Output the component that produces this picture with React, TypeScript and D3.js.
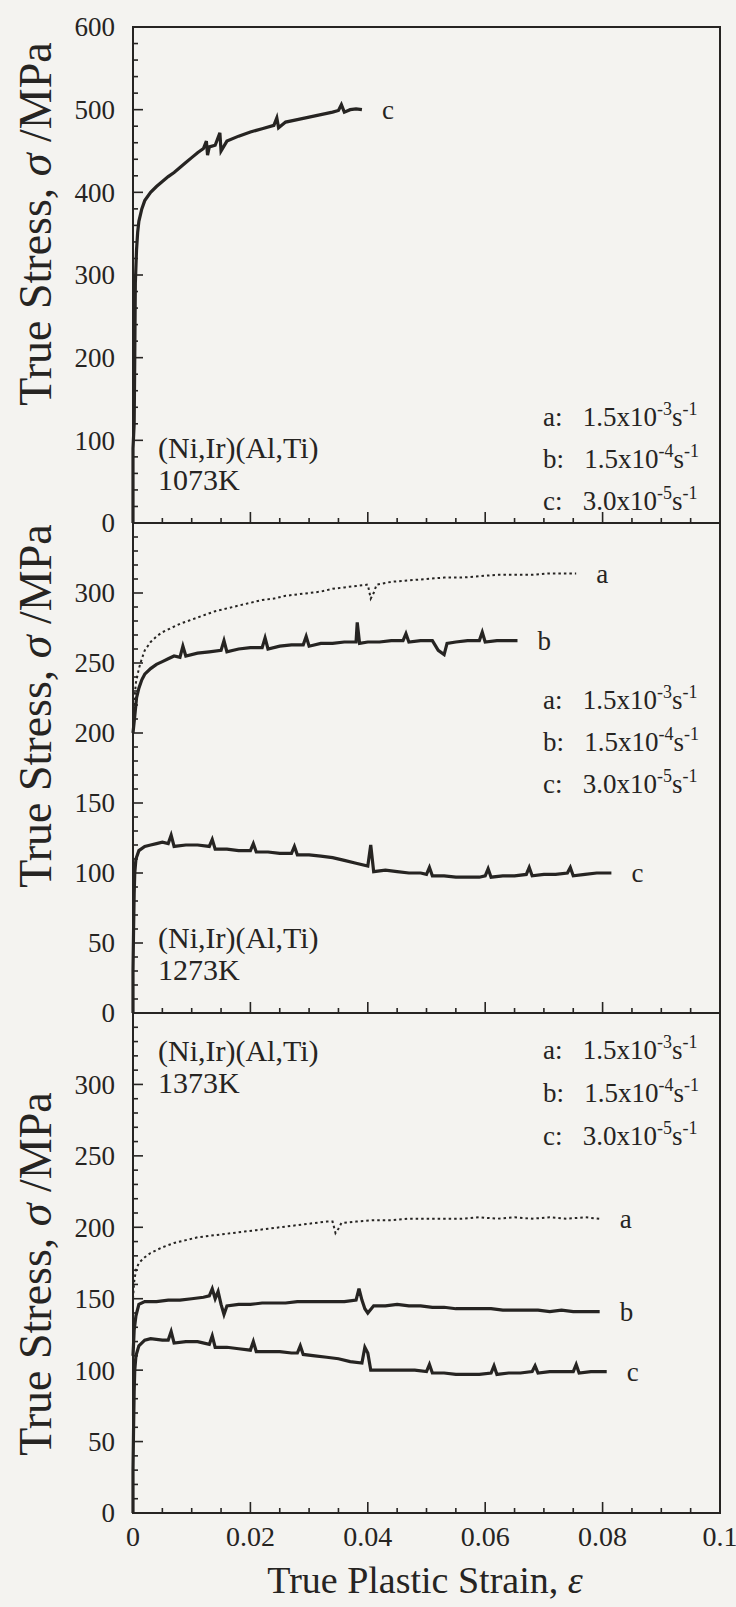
import React from 'react';
import * as d3 from 'd3';

// [true plastic strain, true stress (MPa)]
const c1073: [number, number][] = [
  [0, 0], [0, 90], [0.0002, 120], [0.0003, 200], [0.0004, 290], [0.0006, 330], [0.0008, 352], [0.001, 365],
  [0.0015, 380], [0.002, 390], [0.003, 400], [0.004, 407], [0.005, 413], [0.006, 419], [0.007, 424], [0.008, 430],
  [0.009, 436], [0.01, 442], [0.011, 448], [0.012, 453], [0.0125, 462], [0.0127, 445], [0.013, 455], [0.014, 457],
  [0.0148, 472], [0.015, 450], [0.016, 462], [0.018, 468], [0.02, 473], [0.022, 477], [0.024, 481], [0.0245, 490],
  [0.0248, 478], [0.026, 485], [0.028, 488], [0.03, 491], [0.032, 494], [0.034, 497], [0.035, 499], [0.0355, 506],
  [0.036, 497], [0.037, 500], [0.038, 501], [0.039, 500],
];

const a1273: [number, number][] = [
  [0, 200], [0.0002, 222], [0.0005, 236], [0.001, 246], [0.0015, 253], [0.002, 259], [0.003, 265], [0.004, 269],
  [0.005, 272], [0.006, 274], [0.008, 278], [0.01, 281], [0.012, 284], [0.014, 287], [0.016, 289], [0.018, 291],
  [0.02, 293], [0.022, 295], [0.024, 296], [0.026, 298], [0.028, 299], [0.03, 300], [0.032, 301], [0.034, 303],
  [0.036, 304], [0.038, 305], [0.04, 306], [0.0405, 296], [0.041, 300], [0.0415, 306], [0.044, 308], [0.047, 309],
  [0.05, 310], [0.053, 311], [0.056, 311], [0.059, 312], [0.062, 313], [0.065, 313], [0.068, 313], [0.071, 314],
  [0.0755, 314],
];

const b1273: [number, number][] = [
  [0, 200], [0.0003, 212], [0.0006, 225], [0.001, 232], [0.0015, 238], [0.002, 242], [0.003, 246], [0.004, 249],
  [0.005, 251], [0.006, 253], [0.007, 255], [0.008, 254], [0.0085, 262], [0.009, 255], [0.011, 257], [0.013, 258],
  [0.015, 259], [0.0155, 266], [0.016, 258], [0.018, 260], [0.02, 261], [0.022, 261], [0.0225, 268], [0.023, 260],
  [0.025, 262], [0.027, 263], [0.029, 263], [0.0295, 269], [0.03, 262], [0.032, 264], [0.034, 264], [0.036, 265],
  [0.038, 265], [0.0382, 279], [0.0386, 264], [0.04, 265], [0.042, 265], [0.044, 266], [0.046, 266], [0.0465, 271],
  [0.047, 265], [0.049, 266], [0.051, 266], [0.052, 259], [0.053, 256], [0.0535, 264], [0.055, 265], [0.057, 266],
  [0.059, 266], [0.0595, 272], [0.06, 265], [0.062, 266], [0.064, 266], [0.0655, 266],
];

const c1273: [number, number][] = [
  [0, 0], [0, 30], [0.0001, 60], [0.0002, 85], [0.0003, 100], [0.0005, 110], [0.001, 116], [0.002, 119],
  [0.003, 120], [0.004, 121], [0.005, 122], [0.006, 121], [0.0065, 127], [0.007, 119], [0.009, 120], [0.011, 120],
  [0.013, 119], [0.0135, 124], [0.014, 117], [0.016, 117], [0.018, 116], [0.02, 116], [0.0205, 121], [0.021, 115],
  [0.023, 115], [0.025, 114], [0.027, 114], [0.0275, 119], [0.028, 113], [0.03, 113], [0.032, 112], [0.034, 111],
  [0.036, 109], [0.038, 107], [0.04, 105], [0.0405, 120], [0.041, 101], [0.043, 102], [0.045, 101], [0.047, 100],
  [0.049, 100], [0.05, 99], [0.0505, 104], [0.051, 98], [0.053, 98], [0.055, 97], [0.057, 97], [0.059, 97],
  [0.06, 98], [0.0605, 103], [0.061, 97], [0.063, 98], [0.065, 98], [0.067, 99], [0.0675, 104], [0.068, 98],
  [0.07, 99], [0.072, 99], [0.074, 100], [0.0745, 104], [0.075, 98], [0.077, 99], [0.079, 100], [0.0815, 100],
];

const a1373: [number, number][] = [
  [0, 150], [0.0002, 162], [0.0005, 170], [0.001, 175], [0.002, 179], [0.003, 182], [0.004, 184], [0.005, 186],
  [0.007, 189], [0.009, 191], [0.011, 193], [0.013, 194], [0.015, 195], [0.017, 196], [0.019, 197], [0.021, 198],
  [0.023, 199], [0.025, 200], [0.027, 201], [0.029, 202], [0.031, 203], [0.033, 204], [0.034, 204], [0.0345, 196],
  [0.035, 199], [0.0355, 203], [0.038, 204], [0.041, 205], [0.044, 205], [0.047, 206], [0.05, 206], [0.053, 206],
  [0.056, 206], [0.059, 207], [0.062, 206], [0.065, 207], [0.068, 206], [0.071, 207], [0.074, 206], [0.077, 207],
  [0.0795, 206],
];

const b1373: [number, number][] = [
  [0, 110], [0.0002, 128], [0.0005, 138], [0.001, 146], [0.002, 148], [0.004, 148], [0.006, 149], [0.008, 149],
  [0.01, 150], [0.012, 151], [0.013, 152], [0.0135, 157], [0.014, 150], [0.0145, 155], [0.015, 146], [0.0155, 139],
  [0.016, 145], [0.018, 146], [0.02, 146], [0.022, 147], [0.024, 147], [0.026, 147], [0.028, 148], [0.03, 148],
  [0.032, 148], [0.034, 148], [0.036, 148], [0.038, 149], [0.0385, 157], [0.039, 149], [0.0395, 143], [0.04, 140],
  [0.041, 145], [0.043, 145], [0.045, 146], [0.047, 145], [0.049, 145], [0.051, 144], [0.053, 144], [0.055, 143],
  [0.057, 143], [0.059, 143], [0.061, 143], [0.063, 142], [0.065, 142], [0.067, 142], [0.069, 142], [0.071, 141],
  [0.073, 142], [0.075, 141], [0.077, 141], [0.0795, 141],
];

const c1373: [number, number][] = [
  [0, 0], [0, 30], [0.0001, 60], [0.0002, 85], [0.0003, 100], [0.0005, 110], [0.001, 117], [0.002, 121],
  [0.003, 122], [0.005, 121], [0.006, 121], [0.0065, 127], [0.007, 119], [0.009, 120], [0.011, 120], [0.013, 118],
  [0.0135, 124], [0.014, 116], [0.016, 116], [0.018, 115], [0.02, 114], [0.0205, 120], [0.021, 113], [0.023, 113],
  [0.025, 113], [0.027, 112], [0.028, 112], [0.0285, 117], [0.029, 111], [0.031, 110], [0.033, 109], [0.035, 108],
  [0.037, 106], [0.039, 105], [0.0395, 116], [0.04, 112], [0.0405, 100], [0.042, 100], [0.044, 100], [0.046, 100],
  [0.048, 100], [0.05, 99], [0.0505, 104], [0.051, 98], [0.053, 98], [0.055, 97], [0.057, 97], [0.059, 97],
  [0.061, 98], [0.0615, 103], [0.062, 97], [0.064, 98], [0.066, 98], [0.068, 99], [0.0685, 103], [0.069, 98],
  [0.071, 99], [0.073, 99], [0.075, 99], [0.0755, 104], [0.076, 98], [0.078, 99], [0.0807, 99],
];

const strainTicks = [0, 0.02, 0.04, 0.06, 0.08, 0.1];
const strainTickLabels = ['0', '0.02', '0.04', '0.06', '0.08', '0.1'];
const stressTicks1073 = [0, 100, 200, 300, 400, 500, 600];
const stressTicksHot = [0, 50, 100, 150, 200, 250, 300];
const rateKeys = ['a', 'b', 'c'];
const rateValues = ['1.5', '1.5', '3.0'];
const rateExponents = ['-3', '-4', '-5'];
const temperatures = ['1073K', '1273K', '1373K'];
const alloy = '(Ni,Ir)(Al,Ti)';

const INK = '#262422';
const PAPER = '#f4f3f0';
const FONT = '"Liberation Serif", "Times New Roman", Times, serif';

const W = 736;
const H = 1607;
const left = 133;
const right = 720;

const x = d3.scaleLinear().domain([0, 0.1]).range([left, right]);
const strainMinor = d3.range(0, 0.1 + 1e-9, 0.005);

type Series = { key: string; data: [number, number][]; dotted: boolean };
type PanelDef = {
  top: number;
  bottom: number;
  yMax: number;
  ticks: number[];
  minor: number;
  temp: string;
  series: Series[];
  legendY: number[];
  noteY: number;
  titleY: number;
};

const panels: PanelDef[] = [
  {
    top: 27, bottom: 523, yMax: 600, ticks: stressTicks1073, minor: 20, temp: temperatures[0],
    series: [{ key: 'c', data: c1073, dotted: false }],
    legendY: [417, 459, 501], noteY: 447, titleY: 224,
  },
  {
    top: 523, bottom: 1013, yMax: 350, ticks: stressTicksHot, minor: 10, temp: temperatures[1],
    series: [
      { key: 'a', data: a1273, dotted: true },
      { key: 'b', data: b1273, dotted: false },
      { key: 'c', data: c1273, dotted: false },
    ],
    legendY: [700, 742, 784], noteY: 937, titleY: 706,
  },
  {
    top: 1013, bottom: 1513, yMax: 350, ticks: stressTicksHot, minor: 10, temp: temperatures[2],
    series: [
      { key: 'a', data: a1373, dotted: true },
      { key: 'b', data: b1373, dotted: false },
      { key: 'c', data: c1373, dotted: false },
    ],
    legendY: [1050, 1093, 1136], noteY: 1050, titleY: 1274,
  },
];

const isMajorStrain = (v: number) => Math.abs(v / 0.02 - Math.round(v / 0.02)) < 1e-6;

function Panel({ p }: { p: PanelDef }) {
  const y = d3.scaleLinear().domain([0, p.yMax]).range([p.bottom, p.top]);
  const line = d3.line<[number, number]>().x(d => x(d[0])).y(d => y(d[1]));
  const yMinor = d3.range(0, p.yMax + 1e-9, p.minor);

  return (
    <g>
      {yMinor.map(v => {
        const major = p.ticks.includes(v);
        return (
          <line key={'yt' + v} x1={left} x2={left + (major ? 10 : 5)} y1={y(v)} y2={y(v)}
            stroke={INK} strokeWidth={1.6} />
        );
      })}
      {p.ticks.map(v => (
        <text key={'yl' + v} x={115} y={y(v)} dy="0.35em" textAnchor="end" fontSize={27}>{v}</text>
      ))}
      {strainMinor.map(v => (
        <line key={'xt' + v} x1={x(v)} x2={x(v)} y1={p.bottom} y2={p.bottom - (isMajorStrain(v) ? 11 : 5)}
          stroke={INK} strokeWidth={1.6} />
      ))}

      {p.series.map(s => (
        <path key={s.key} d={line(s.data) || ''} fill="none" stroke={INK}
          strokeWidth={s.dotted ? 2 : 3.2}
          strokeDasharray={s.dotted ? '2.5 3' : undefined}
          strokeLinejoin="miter" />
      ))}
      {p.series.map(s => {
        const last = s.data[s.data.length - 1];
        return (
          <text key={'lab' + s.key} x={x(last[0]) + 20} y={y(last[1])} dy="0.35em" fontSize={27}>{s.key}</text>
        );
      })}

      <text x={158} y={p.noteY} dy="0.35em" fontSize={30}>{alloy}</text>
      <text x={158} y={p.noteY + 32} dy="0.35em" fontSize={30}>{p.temp}</text>

      {rateKeys.map((k, i) => (
        <text key={'lg' + k} x={543} y={p.legendY[i] + 9} fontSize={27}>
          {`${k}:\u00a0\u00a0\u00a0${rateValues[i]}x10`}
          <tspan fontSize={18} dy={-11}>{rateExponents[i]}</tspan>
          <tspan fontSize={27} dy={11}>s</tspan>
          <tspan fontSize={18} dy={-11}>-1</tspan>
        </text>
      ))}

      <text transform={`translate(51,${p.titleY}) rotate(-90)`} textAnchor="middle" fontSize={46}>
        True Stress, <tspan fontStyle="italic">σ</tspan> /MPa
      </text>

      <rect x={left} y={p.top} width={right - left} height={p.bottom - p.top} fill="none" stroke={INK} strokeWidth={2} />
    </g>
  );
}

export default function App() {
  const bottom = panels[panels.length - 1].bottom;
  return (
    <svg width={W} height={H} viewBox={`0 0 ${W} ${H}`}
      style={{ position: 'absolute', left: 0, top: 0, display: 'block' }}
      fontFamily={FONT} fill={INK}>
      <rect x={0} y={0} width={W} height={H} fill={PAPER} />
      {panels.map((p, i) => <Panel key={i} p={p} />)}
      {strainTicks.map((v, i) => (
        <text key={'xl' + v} x={x(v)} y={bottom + 33} textAnchor="middle" fontSize={28}>{strainTickLabels[i]}</text>
      ))}
      <text x={425} y={bottom + 80} textAnchor="middle" fontSize={38}>
        True Plastic Strain,  <tspan fontStyle="italic">ε</tspan>
      </text>
    </svg>
  );
}
